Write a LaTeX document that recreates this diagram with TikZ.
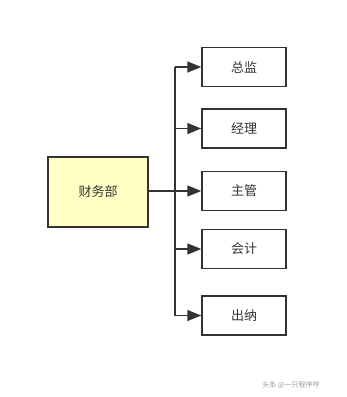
\documentclass[tikz,border=0pt]{standalone}
\usepackage{fontspec}
\newfontfamily\cjk{Noto Sans CJK SC}
\usetikzlibrary{arrows.meta}
\definecolor{ln}{HTML}{333333}
\definecolor{yel}{HTML}{FFFFC6}
\begin{document}
\begin{tikzpicture}[x=1pt,y=-1pt,
  box/.style={draw=ln,line width=1.5pt,minimum width=84pt,minimum height=39pt,inner sep=0pt,font=\cjk\fontsize{13}{15}\selectfont,text=ln},
  conn/.style={draw=ln,line width=1.5pt},
  arr/.style={conn,-{Triangle[length=14pt,width=11pt]}}]
\useasboundingbox (0,0) rectangle (347,397);
\fill[white] (0,0) rectangle (347,397);
\node[box,fill=yel,minimum width=100pt,minimum height=70pt] (main) at (98,192) {财务部};
\node[box] (a) at (244,67) {总监};
\node[box] (b) at (244,128.5) {经理};
\node[box] (c) at (244,191) {主管};
\node[box] (d) at (244,249) {会计};
\node[box] (e) at (244,315.5) {出纳};
\coordinate (top) at (175,67);
\coordinate (bot) at (175,315.5);
\draw[conn] (top) -- (bot);
\draw[arr] (main.east |- c.west) -- (c.west);
\foreach \n in {a,b,d,e}{\draw[arr] (175,0 |- \n.west) -- (\n.west);}
\node[font=\cjk\fontsize{7}{9}\selectfont,text=gray!80] (wm) at (291,385) {头条 @一只程序哼};
\end{tikzpicture}
\end{document}
